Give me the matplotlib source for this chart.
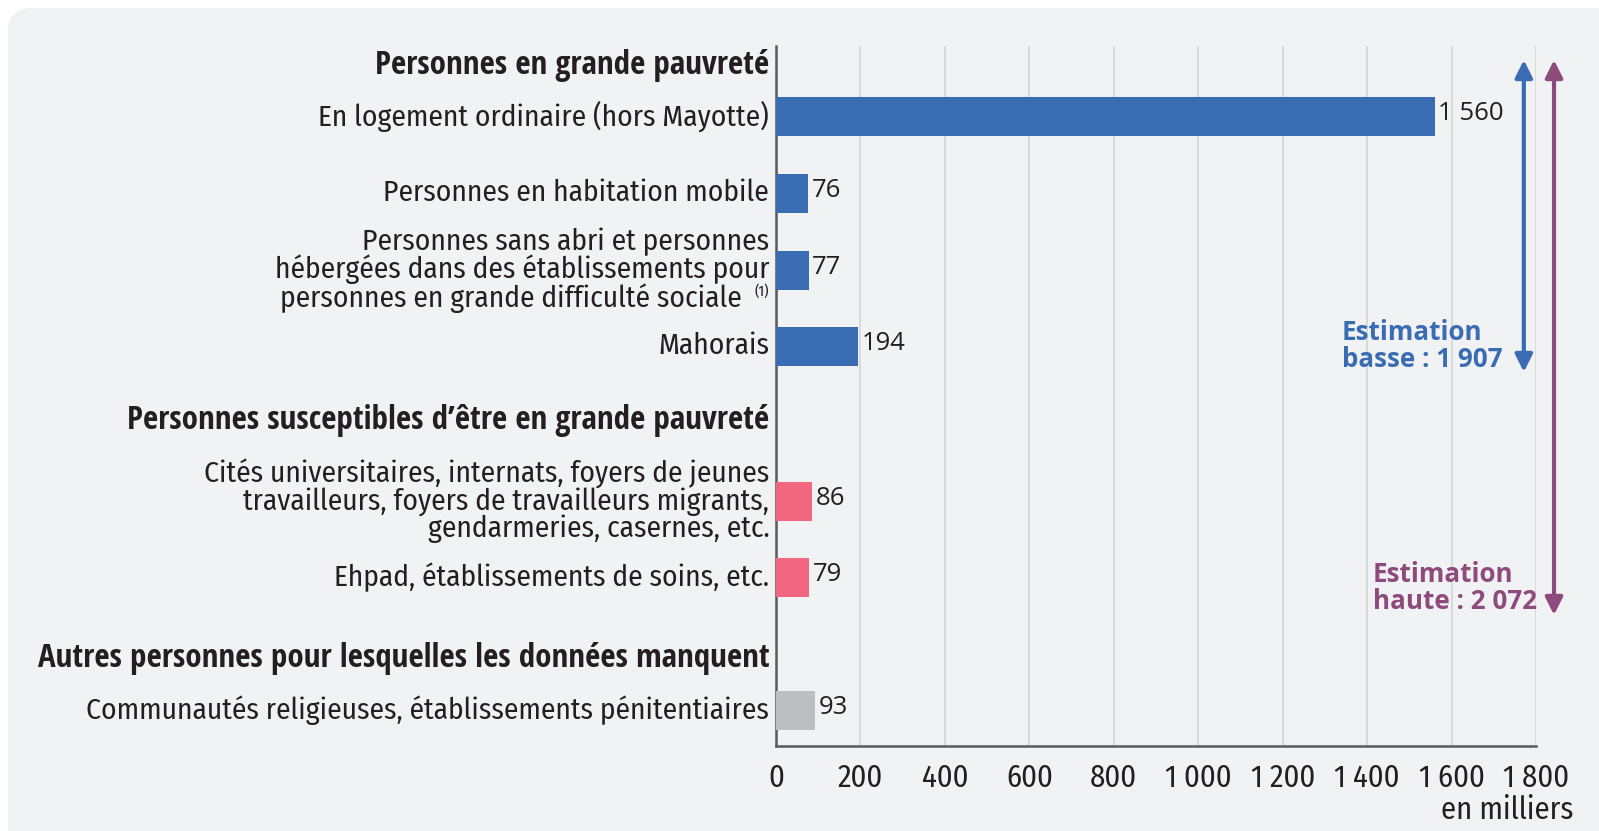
import matplotlib
matplotlib.use("Agg")
import matplotlib.pyplot as plt
from matplotlib.patches import FancyBboxPatch

# data (milliers de personnes)
categories = [
    "En logement ordinaire (hors Mayotte)",
    "Personnes en habitation mobile",
    "Personnes sans abri et personnes\nhébergées dans des établissements pour\n"
    "personnes en grande difficulté sociale    ",
    "Mahorais",
    "Cités universitaires, internats, foyers de jeunes\ntravailleurs, foyers de travailleurs migrants,\n"
    "gendarmeries, casernes, etc.",
    "Ehpad, établissements de soins, etc.",
    "Communautés religieuses, établissements pénitentiaires",
]
footnote = "(1)"
values = [1560, 76, 77, 194, 86, 79, 93]
groups = ["grande", "grande", "grande", "grande", "susceptible", "susceptible", "autres"]
headers = [
    "Personnes en grande pauvreté",
    "Personnes susceptibles d’être en grande pauvreté",
    "Autres personnes pour lesquelles les données manquent",
]
xticks = [0, 200, 400, 600, 800, 1000, 1200, 1400, 1600, 1800]
xtick_labels = ["0", "200", "400", "600", "800", "1 000", "1 200", "1 400", "1 600", "1 800"]
value_labels = ["1 560", "76", "77", "194", "86", "79", "93"]
est_low = "Estimation\nbasse : 1 907"
est_high = "Estimation\nhaute : 2 072"

# layout (vertical positions in pixels from top)
bar_y = [116, 193, 270, 346, 501, 577, 710]
header_y = [65, 420, 658]
bar_h = 39

colors = {"grande": "#3a6cb4", "susceptible": "#f0677f", "autres": "#bdbec0"}
bg = "#f1f2f4"
text_col = "#231f20"
blue = "#3a6cb4"
purple = "#8e4a7d"

cond_bold = ["Open Sans Condensed", "Open Sans", "DejaVu Sans"]
cond = ["Fira Sans Condensed", "Open Sans", "DejaVu Sans"]
reg = ["Open Sans", "DejaVu Sans"]
plt.rcParams["font.family"] = cond

fig = plt.figure(figsize=(15.99, 8.31), dpi=100)
fig.patch.set_facecolor("white")
panel = FancyBboxPatch((8, -40), 1610, 831 - 8 + 40,
                       boxstyle="round,pad=0,rounding_size=24",
                       transform=None, facecolor=bg, edgecolor="none", zorder=0)
fig.add_artist(panel)

ax = fig.add_axes([776 / 1599, 1 - 746 / 831, 760 / 1599, 700 / 831])
ax.set_facecolor("none")
ax.set_xlim(0, 1800)
ax.set_ylim(746, 46)

ax.barh(bar_y, values, height=bar_h, color=[colors[g] for g in groups], zorder=3)

for y, v, lab in zip(bar_y, values, value_labels):
    ax.text(v + 8, y - 3, lab, va="center", ha="left", fontsize=18.5,
            family=reg, color=text_col, zorder=4)

ytr = ax.get_yaxis_transform()
for y, lab in zip(bar_y, categories):
    ax.text(-0.009, y, lab, transform=ytr, ha="right", va="center",
            multialignment="right", fontsize=21.2,
            linespacing=0.95, color=text_col)
# footnote call after "sociale"
ax.text(-0.009, bar_y[2] + 21, footnote, transform=ytr, ha="right", va="center",
        fontsize=10.5, color=text_col)
for y, lab in zip(header_y, headers):
    ax.text(-0.009, y, lab, transform=ytr, ha="right", va="center",
            fontsize=23.8, fontweight="bold", family=cond_bold, color=text_col)

ax.set_xticks(xticks)
ax.set_xticklabels(xtick_labels, fontsize=22, color=text_col)
ax.tick_params(axis="x", length=0, pad=12)
ax.set_yticks([])
ax.xaxis.grid(True, color="#d3d4d6", linewidth=1.2, zorder=0)
ax.set_axisbelow(True)

for s in ["top", "right"]:
    ax.spines[s].set_visible(False)
for s in ["left", "bottom"]:
    ax.spines[s].set_color("#5a5a5c")
    ax.spines[s].set_linewidth(1.8)

ax.text(1.0487, 810, "en milliers", transform=ytr, ha="right", va="center",
        fontsize=22, color=text_col, clip_on=False)

# estimation arrows
ax.annotate("", xy=(0.984, 60), xytext=(0.984, 372), xycoords=ytr, textcoords=ytr,
            arrowprops=dict(arrowstyle="<|-|>", color=blue, lw=3, mutation_scale=26,
                            shrinkA=0, shrinkB=0), annotation_clip=False)
ax.annotate("", xy=(1.0237, 60), xytext=(1.0237, 615), xycoords=ytr, textcoords=ytr,
            arrowprops=dict(arrowstyle="<|-|>", color=purple, lw=3, mutation_scale=26,
                            shrinkA=0, shrinkB=0), annotation_clip=False)
ax.text(0.7447, 346, est_low, transform=ytr, ha="left", va="center", fontsize=18.7,
        fontweight="bold", family=reg, color=blue, linespacing=1.0, zorder=5)
ax.text(0.7855, 588, est_high, transform=ytr, ha="left", va="center", fontsize=18.7,
        fontweight="bold", family=reg, color=purple, linespacing=1.0, zorder=5)

fig.savefig("out.png", dpi=100, facecolor=fig.get_facecolor())
